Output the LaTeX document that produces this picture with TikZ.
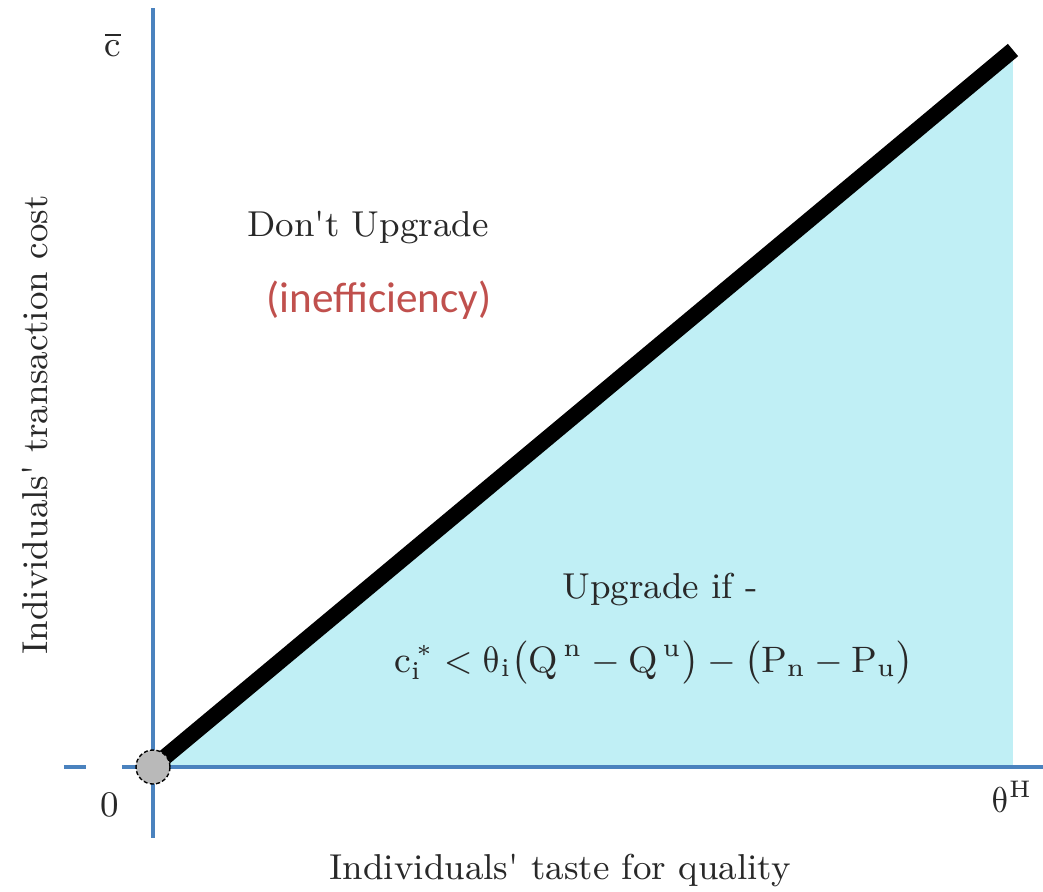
\documentclass[tikz,border=0pt]{standalone}
\usepackage{fontspec}
\newfontfamily\calfont{Carlito}
\newfontfamily\lmmath{latinmodern-math.otf}
\newcommand{\uth}{\mathord{\text{\lmmath θ}}}
\definecolor{axisblue}{RGB}{74,130,190}
\definecolor{fillcyan}{RGB}{192,239,245}
\definecolor{redtxt}{RGB}{192,80,77}
\definecolor{txtgray}{RGB}{40,40,40}
\usepackage{amsmath}
\begin{document}
\begin{tikzpicture}[x=0.25pt,y=-0.25pt,
  axis/.style={draw=axisblue,line width=1pt},
  lbl/.style={font=\fontsize{9}{11}\selectfont,text=txtgray,inner sep=0pt}]
\useasboundingbox (0,0) rectangle (1043,892);
\coordinate (O) at (153,767);
\coordinate (T) at (1013,50);
\coordinate (R) at (1013,767);
\fill[fillcyan] (O) -- (T) -- (R) -- cycle;
\draw[axis] (153,8) coordinate (ytop) -- (153,838) coordinate (ybot);
\draw[axis] (122,767) coordinate (xl) -- (1043,767) coordinate (xr);
\draw[axis] (64,767) coordinate (dl) -- (86,767) coordinate (dr);
\draw[line width=4pt,line cap=butt] (O) -- (T);
\node[circle,fill=gray!55,draw=black,dashed,dash pattern=on 1pt off 0.6pt,line width=0.35pt,minimum size=8.5pt,inner sep=0pt] (dot) at (O) {};
\node[lbl] (cbar) at (113,45) {$\overline{\mathrm{c}}$};
\node[lbl] (zero) at (110,805) {0};
\node[lbl] (thH) at (1012,797) {$\uth^{\mathrm{H}}$};
\node[lbl] (dont) at (368,228) {Don\textquotesingle t Upgrade};
\node[inner sep=0pt,text=redtxt,font=\calfont\fontsize{10.8}{13}\selectfont] (ineff) at (379,300) {(inefficiency)};
\node[lbl] (upg) at (660,590) {Upgrade if -};
\node[lbl,font=\fontsize{9.2}{11}\selectfont] (form) at (654,663) {$\mathrm{c}_{\mathrm{i}}^{\,*}<\uth_{\mathrm{i}}\bigl(\mathrm{Q}^{\,\mathrm{n}}-\mathrm{Q}^{\,\mathrm{u}}\bigr)-\bigl(\mathrm{P}_{\mathrm{n}}-\mathrm{P}_{\mathrm{u}}\bigr)$};
\node[lbl] (xlab) at (560,870) {Individuals\textquotesingle\ taste for quality};
\node[lbl,rotate=90] (ylab) at (35,425) {Individuals\textquotesingle\ transaction cost};
\end{tikzpicture}
\end{document}
